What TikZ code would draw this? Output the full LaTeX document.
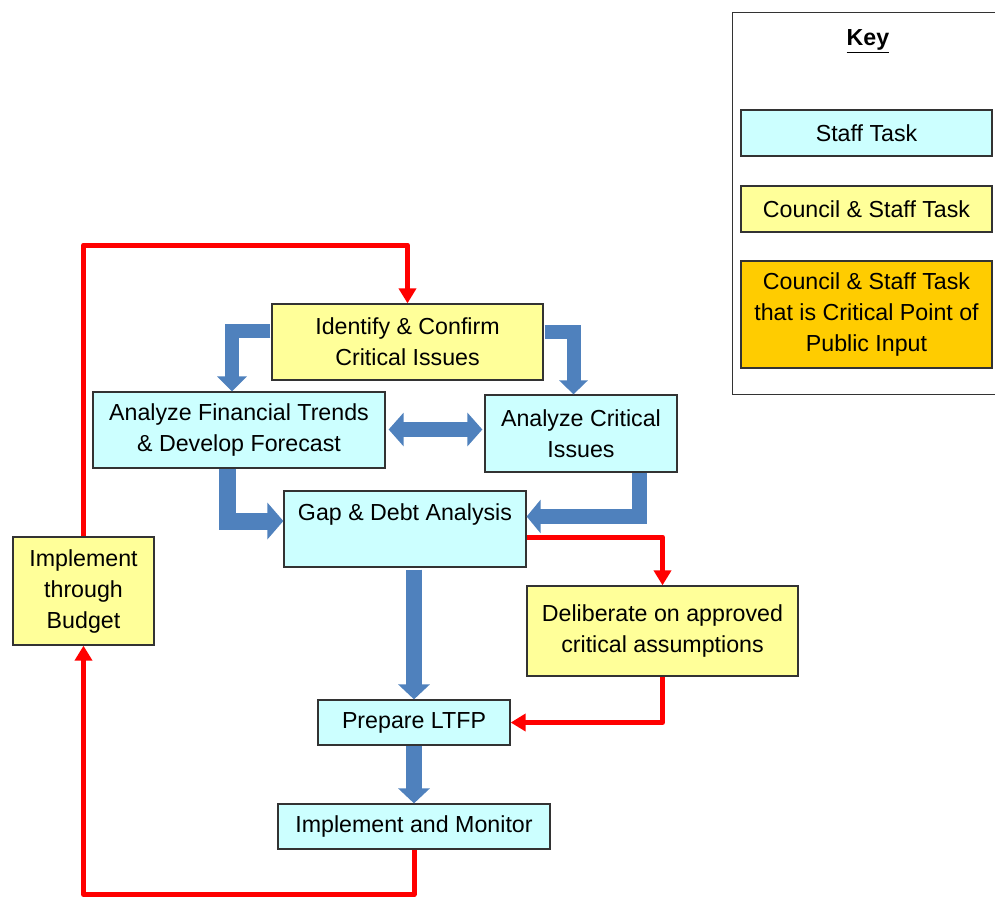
\documentclass[tikz,border=0pt]{standalone}
\usepackage{fontspec}
\setmainfont{Liberation Sans}
\usetikzlibrary{arrows.meta}
\definecolor{cyanbox}{HTML}{CCFFFF}
\definecolor{yelbox}{HTML}{FFFF99}
\definecolor{orabox}{HTML}{FFCC00}
\definecolor{blockblue}{HTML}{4F81BD}
\definecolor{edgegrey}{HTML}{333333}
\begin{document}
\begin{tikzpicture}[x=1pt,y=-1pt,
  taskbox/.style={draw=edgegrey, line width=1.3pt, inner sep=0pt, align=center,
    font=\fontsize{23.2}{31}\selectfont},
  staff/.style={taskbox, fill=cyanbox},
  council/.style={taskbox, fill=yelbox},
  critical/.style={taskbox, fill=orabox},
  blk/.style={draw=blockblue, line width=#1, line join=miter},
  redline/.style={draw=red, line width=5pt, line join=round,
    -{Triangle[width=17pt,length=15pt]}},
  lbl/.style={inner sep=0pt, align=center, font=\fontsize{23.2}{31}\selectfont}
]
\useasboundingbox (0,0) rectangle (995,898);

% key
\draw[draw=edgegrey, line width=1pt] (1000,12) -- (732,12) -- (732,394) -- (1000,394);
\node[lbl, font=\fontsize{23.2}{31}\selectfont\bfseries] (keytitle) at (868,41) {\underline{Key}};
\node[staff, minimum width=251pt, minimum height=46pt] (k1) at (866.5,133) {Staff Task};
\node[council, minimum width=251pt, minimum height=46pt] (k2) at (866.5,209) {Council \& Staff Task};
\node[critical, minimum width=251pt, minimum height=107pt] (k3) at (866.5,314.5) {Council \& Staff Task\\that is Critical Point of\\Public Input};

% main boxes
\node[council, minimum width=271pt, minimum height=76pt] (ident) at (407.5,342) {Identify \& Confirm\\Critical Issues};
\node[staff, minimum width=292pt, minimum height=76pt] (fin) at (239,430) {Analyze Financial Trends\\\& Develop Forecast};
\node[staff, minimum width=192pt, minimum height=77pt] (crit) at (581,433.5) {Analyze Critical\\Issues};
\node[staff, minimum width=242pt, minimum height=76pt] (gap) at (405,529) {};
\node[lbl] (gaptext) at (405,514) {Gap \& Debt Analysis};
\node[council, minimum width=271pt, minimum height=90pt] (del) at (662.5,631) {Deliberate on approved\\critical assumptions};
\node[staff, minimum width=192pt, minimum height=45pt] (prep) at (414,722.5) {Prepare LTFP};
\node[staff, minimum width=272pt, minimum height=45pt] (impl) at (414,826.5) {Implement and Monitor};
\node[council, minimum width=141pt, minimum height=108pt] (budget) at (83.5,591) {Implement\\through\\Budget};

% blue block arrows
\draw[blk=14pt, -{Triangle[width=29pt,length=15pt]}]
  ([xshift=-1pt]ident.west |- 0,331) -| (232,0 |- fin.north);
\draw[blk=14pt, -{Triangle[width=28pt,length=14pt]}]
  ([xshift=1pt]ident.east |- 0,332) -| (573.5,0 |- crit.north);
\draw[blk=15pt, {Triangle[width=33pt,length=15pt]}-{Triangle[width=33pt,length=15pt]}]
  ([xshift=3pt]fin.east |- 0,429.5) -- ([xshift=-2pt]crit.west |- 0,429.5);
\draw[blk=17pt, -{Triangle[width=36pt,length=16pt]}]
  (227,0 |- fin.south) |- (gap.west |- 0,521);
\draw[blk=15pt, -{Triangle[width=33pt,length=14pt]}]
  (639.5,0 |- crit.south) |- (gap.east |- 0,516.5);
\draw[blk=16pt, -{Triangle[width=31pt,length=15pt]}]
  ([yshift=-2pt]prep.north |- gap.south) -- (prep.north);
\draw[blk=16pt, -{Triangle[width=31pt,length=15pt]}]
  (prep.south) -- (impl.north);

% red flow lines
\draw[redline] (budget.north) -- (budget.north |- 0,245) -| (ident.north);
\draw[redline] (impl.south) -- (impl.south |- 0,894.5) -| (budget.south);
\draw[redline] (gap.east |- 0,537) -| (del.north);
\draw[redline] (del.south) |- (prep.east);
\end{tikzpicture}
\end{document}
